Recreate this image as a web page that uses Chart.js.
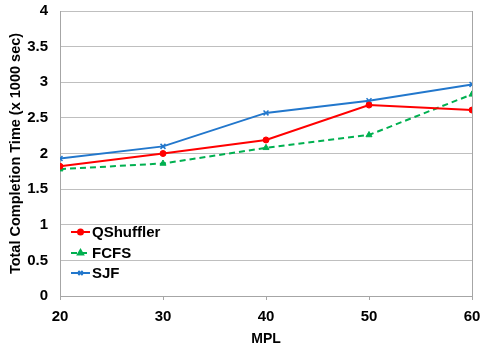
<!DOCTYPE html>
<html>
<head>
<meta charset="utf-8">
<script src="https://cdn.jsdelivr.net/npm/chart.js@4.4.1/dist/chart.umd.min.js"></script>
<style>
  body { margin: 0; background: #fff; }
  #wrap { width: 481px; height: 348px; }
</style>
</head>
<body>
<div id="wrap"><canvas id="myChart" width="481" height="348"></canvas></div>
<script>
var mpl = [20, 30, 40, 50, 60];
var qshuffler = [1.82, 2.00, 2.19, 2.68, 2.61];
var fcfs = [1.78, 1.86, 2.08, 2.26, 2.83];
var sjf = [1.93, 2.10, 2.57, 2.74, 2.97];
var yTicks = [0, 0.5, 1, 1.5, 2, 2.5, 3, 3.5, 4];

function pts(vals) {
    return mpl.map(function (x, i) { return { x: x, y: vals[i] }; });
}

var FONT = "'Liberation Sans', Arial, sans-serif";

// legend drawn inside the plot, bottom-left like the original
var insideLegend = {
    id: 'insideLegend',
    afterDatasetsDraw: function (chart) {
        var c = chart.ctx;
        var area = chart.chartArea;
        var x0 = area.left + 11, x1 = area.left + 30;
        var ys = [232, 253, 273];
        chart.data.datasets.forEach(function (ds, i) {
            var y = ys[i];
            c.save();
            c.strokeStyle = ds.borderColor;
            c.fillStyle = ds.backgroundColor;
            c.lineWidth = 2;
            c.setLineDash(ds.borderDash || []);
            c.beginPath();
            c.moveTo(x0, y);
            c.lineTo(x1, y);
            c.stroke();
            c.setLineDash([]);
            Chart.helpers.drawPoint(c, {
                pointStyle: ds.pointStyle,
                radius: ds.pointRadius - 0.5,
                borderWidth: ds.pointBorderWidth,
                rotation: 0
            }, (x0 + x1) / 2, y);
            c.fillStyle = '#000';
            c.font = 'bold 15px ' + FONT;
            c.textBaseline = 'middle';
            c.fillText(ds.label, x1 + 2, y + 1);
            c.restore();
        });
    }
};

var ctx = document.getElementById('myChart').getContext('2d');
var myChart = new Chart(ctx, {
    type: 'line',
    data: {
        datasets: [{
            label: 'QShuffler',
            data: pts(qshuffler),
            borderColor: '#ff0000',
            backgroundColor: '#ff0000',
            borderWidth: 2,
            pointStyle: 'circle',
            pointRadius: 3,
            pointBorderWidth: 1
        }, {
            label: 'FCFS',
            data: pts(fcfs),
            borderColor: '#00b050',
            backgroundColor: '#00b050',
            borderWidth: 2,
            borderDash: [6, 4],
            pointStyle: 'triangle',
            pointRadius: 3.5,
            pointBorderWidth: 1
        }, {
            label: 'SJF',
            data: pts(sjf),
            borderColor: '#2277cc',
            backgroundColor: '#2277cc',
            borderWidth: 2,
            pointStyle: 'crossRot',
            pointRadius: 3.5,
            pointBorderWidth: 1.5
        }]
    },
    options: {
        responsive: false,
        animation: false,
        layout: { padding: { left: 0, right: 9, top: 11, bottom: 0 } },
        plugins: {
            legend: { display: false },
            tooltip: { enabled: false }
        },
        scales: {
            x: {
                type: 'linear',
                min: 20,
                max: 60,
                afterBuildTicks: function (scale) {
                    scale.ticks = mpl.map(function (v) { return { value: v }; });
                },
                grid: {
                    drawOnChartArea: true,
                    color: function (c) { return c.tick && c.tick.value === 60 ? '#a6a6a6' : 'rgba(0,0,0,0)'; },
                    tickColor: '#a6a6a6',
                    tickLength: 4
                },
                border: { color: '#a6a6a6' },
                ticks: {
                    color: '#000',
                    font: { family: FONT, size: 15, weight: 'bold' },
                    padding: 8,
                    maxRotation: 0
                },
                title: {
                    display: true,
                    text: 'MPL',
                    color: '#000',
                    font: { family: FONT, size: 14, weight: 'bold' },
                    padding: { top: 1, bottom: 0 }
                },
                afterFit: function (scale) {
                    scale.height = 52;
                    scale.paddingLeft = 0;
                    scale.paddingRight = 0;
                }
            },
            y: {
                min: 0,
                max: 4,
                afterBuildTicks: function (scale) {
                    scale.ticks = yTicks.map(function (v) { return { value: v }; });
                },
                grid: {
                    color: '#bfbfbf',
                    drawTicks: false
                },
                border: { color: '#a6a6a6' },
                ticks: {
                    color: '#000',
                    font: { family: FONT, size: 15, weight: 'bold' },
                    padding: 12,
                    callback: function (v) { return String(v); }
                },
                title: {
                    display: true,
                    text: 'Total Completion Time (x 1000 sec)',
                    color: '#000',
                    font: { family: FONT, size: 14.5, weight: 'bold' },
                    padding: { top: 7, bottom: 0 }
                },
                afterFit: function (scale) {
                    scale.width = 60;
                    scale.paddingTop = 0;
                    scale.paddingBottom = 0;
                }
            }
        }
    },
    plugins: [insideLegend]
});
</script>
</body>
</html>
